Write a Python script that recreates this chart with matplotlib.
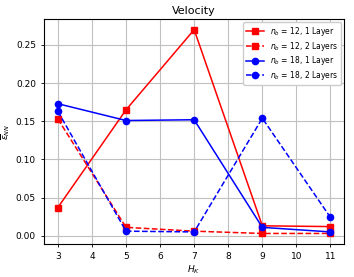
import matplotlib
matplotlib.use("Agg")
import matplotlib.pyplot as plt

H = [3, 5, 7, 9, 11]
nb12_1 = [0.037, 0.165, 0.270, 0.013, 0.012]
nb12_2 = [0.153, 0.011, 0.006, 0.003, 0.003]
nb18_1 = [0.173, 0.151, 0.152, 0.011, 0.005]
nb18_2 = [0.163, 0.006, 0.005, 0.154, 0.024]
labels = [r"$n_b$ = 12, 1 Layer", r"$n_b$ = 12, 2 Layers",
          r"$n_b$ = 18, 1 Layer", r"$n_b$ = 18, 2 Layers"]

fig = plt.figure(figsize=(3.54, 2.77), dpi=100)
ax = fig.add_axes([0.125, 0.12, 0.847, 0.81])
ax.plot(H, nb12_1, 'r-s', ms=4.5, lw=1.1, label=labels[0])
ax.plot(H, nb12_2, 'r--s', ms=4.5, lw=1.1, label=labels[1])
ax.plot(H, nb18_1, 'b-o', ms=4.5, lw=1.1, label=labels[2])
ax.plot(H, nb18_2, 'b--o', ms=4.5, lw=1.1, label=labels[3])
ax.set_xticks(range(3, 12))
ax.set_yticks([0.0, 0.05, 0.10, 0.15, 0.20, 0.25])
ax.set_xlim(2.6, 11.4)
ax.set_ylim(-0.0105, 0.2835)
ax.grid(True, color='#c0c0c0', lw=0.8)
ax.tick_params(labelsize=6.5, length=2.5, width=0.6)
for s in ax.spines.values():
    s.set_linewidth(0.8)
ax.set_title("Velocity", fontsize=8, pad=4)
ax.set_xlabel(r"$H_K$", fontsize=6.5, labelpad=2)
ax.set_ylabel(r"$\overline{\epsilon}_{NN}$", fontsize=6.5, labelpad=3)
ax.legend(loc='upper right', fontsize=5.5, framealpha=1, borderpad=0.4,
          handlelength=2.3, labelspacing=0.2, borderaxespad=0.35)
fig.savefig("out.png", dpi=100)
